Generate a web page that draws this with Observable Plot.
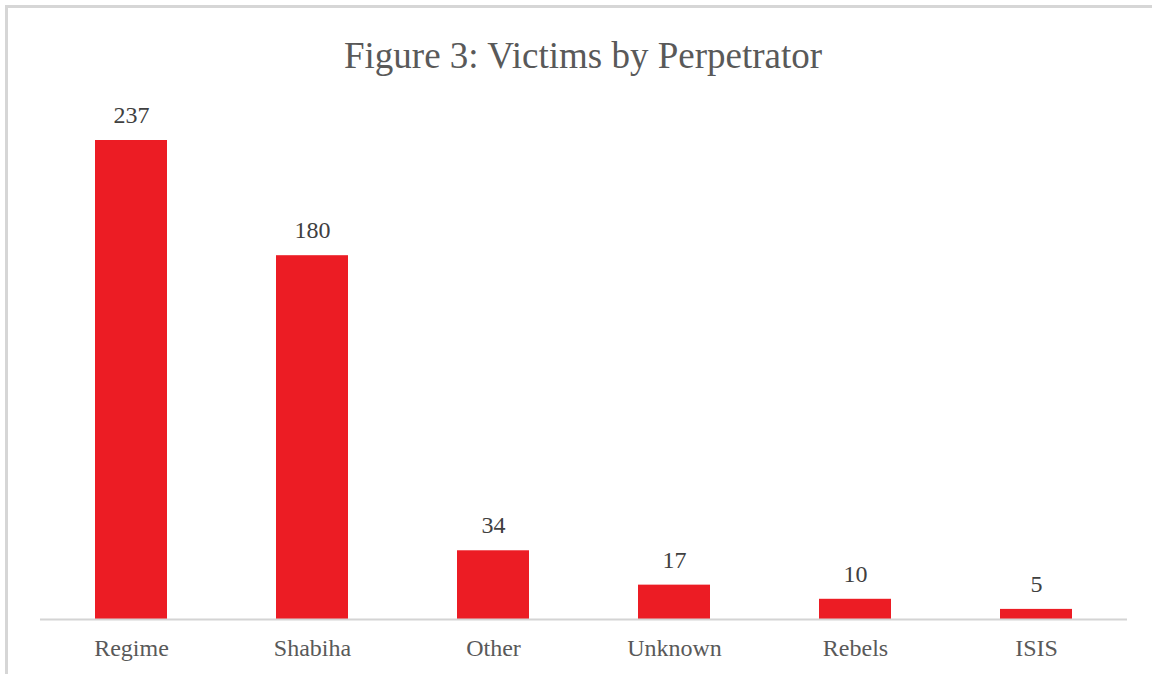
<!DOCTYPE html>
<html>
<head>
<meta charset="utf-8">
<script src="https://cdn.jsdelivr.net/npm/d3@7"></script>
<script src="https://cdn.jsdelivr.net/npm/@observablehq/plot@0.6"></script>
<style>
  html, body { margin: 0; padding: 0; background: #fff; }
  #wrap { position: relative; width: 1152px; height: 674px; overflow: hidden; background: #fff; }
  #frameTop { position: absolute; left: 5px; top: 5px; width: 1147px; height: 3px; background: #d6d6d6; }
  #frameLeft { position: absolute; left: 5px; top: 5px; width: 3px; height: 669px; background: #d6d6d6; }
  #title { position: absolute; left: 0; top: 34px; width: 1166px; text-align: center;
           font-family: "Liberation Serif", "Times New Roman", serif; font-size: 37px; color: #595959; line-height: 44px; }
  #chart { position: absolute; left: 0; top: 0; }
</style>
</head>
<body>
<div id="wrap">
  <div id="frameTop"></div>
  <div id="frameLeft"></div>
  <div id="chart"></div>
  <div id="title">Figure 3: Victims by Perpetrator</div>
</div>
<script>
const categories = ["Regime", "Shabiha", "Other", "Unknown", "Rebels", "ISIS"];
const victims = [237, 180, 34, 17, 10, 5];

const data = categories.map((c, i) => ({category: c, value: victims[i]}));

const chart = Plot.plot({
  width: 1152,
  height: 674,
  marginLeft: 40,
  marginRight: 25,
  marginTop: 140,
  marginBottom: 55,
  style: {fontFamily: "'Liberation Serif', 'Times New Roman', serif", background: "transparent"},
  x: {domain: categories, paddingInner: 0.6, paddingOuter: 0.3, label: null},
  y: {domain: [0, 237], axis: null},
  marks: [
    Plot.barY(data, {x: "category", y: "value", fill: "#ec1c24"}),
    Plot.ruleY([0], {stroke: "#d4d4d4", strokeWidth: 2}),
    Plot.text(data, {x: "category", y: "value", text: d => String(d.value), dy: -25,
      fontSize: 24, fill: "#404040"}),
    Plot.axisX({tickSize: 0, tickPadding: 19, fontSize: 24, color: "#595959", label: null})
  ]
});
document.getElementById("chart").appendChild(chart);
</script>
</body>
</html>
